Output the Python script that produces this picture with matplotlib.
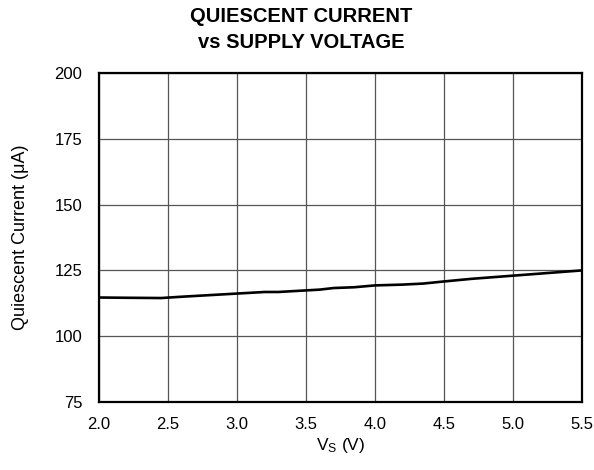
import numpy as np
import matplotlib
matplotlib.use('Agg')
import matplotlib.pyplot as plt

# supply voltage (V) and quiescent current (uA)
vs = [2.0, 2.2, 2.45, 2.6, 2.8, 3.0, 3.2, 3.3, 3.5, 3.6, 3.7, 3.85, 4.0, 4.2, 4.35, 4.5, 4.7, 5.0, 5.25, 5.5]
iq = [114.7, 114.6, 114.5, 115.0, 115.6, 116.2, 116.8, 116.8, 117.4, 117.7, 118.3, 118.6, 119.3, 119.6, 120.0, 120.8, 121.8, 123.0, 124.0, 125.0]

x_ticks = [2.0, 2.5, 3.0, 3.5, 4.0, 4.5, 5.0, 5.5]
y_ticks = [75, 100, 125, 150, 175, 200]

plt.rcParams['font.family'] = ['Liberation Sans', 'DejaVu Sans']

fig = plt.figure(figsize=(5.94, 4.70), dpi=100)
ax = fig.add_axes([99 / 594, 1 - 402 / 470, 483 / 594, 329 / 470])

ax.plot(vs, iq, color='black', lw=1.9, solid_capstyle='round', zorder=3)

ax.set_xlim(2.0, 5.5)
ax.set_ylim(75, 200)
ax.set_xticks(x_ticks)
ax.set_yticks(y_ticks)
ax.set_xticklabels(['{:.1f}'.format(v) for v in x_ticks])
ax.tick_params(length=0, labelsize=12, colors='black')
ax.tick_params(axis='y', pad=12)
ax.tick_params(axis='x', pad=10.5)
ax.grid(True, color='#555555', lw=0.9)
for s in ax.spines.values():
    s.set_linewidth(1.6)
    s.set_zorder(4)

ax.set_ylabel('Quiescent Current (\u03bcA)', fontsize=13, labelpad=18)
ax.set_xlabel(r'$\mathregular{V_S}$ (V)', fontsize=12.5, labelpad=3)

fig.text(301 / 594, 1 - 17 / 470, 'QUIESCENT CURRENT', ha='center', va='center',
         fontsize=14.5, fontweight='bold')
fig.text(301 / 594, 1 - 42 / 470, 'vs SUPPLY VOLTAGE', ha='center', va='center',
         fontsize=14.5, fontweight='bold')

fig.savefig('out.png', dpi=100)
plt.close(fig)
